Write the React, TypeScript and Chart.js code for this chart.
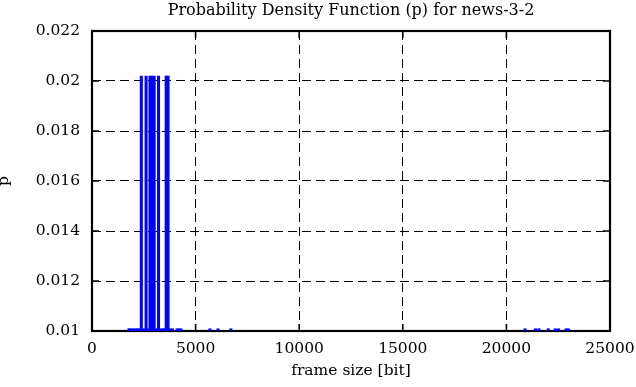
import { useEffect, useRef } from 'react';
import { Chart, registerables } from 'chart.js';

Chart.register(...registerables);

// frame size [bit] of each impulse
const frameSizes = [
  1780, 1860, 1980, 2090, 2200, 2290, 2380, 2490, 2610, 2700, 2800, 2900, 3000, 3100,
  3210, 3310, 3420, 3500, 3580, 3670, 3780, 3880, 4110, 4210, 4290, 5690, 6080, 6700,
  20900, 21400, 21570, 22020, 22360, 22520, 22880, 22990,
];
// probability density p for each impulse
const pdfValues = [
  0.01009, 0.01009, 0.01009, 0.01009, 0.01009, 0.01009, 0.0202, 0.01009, 0.0202, 0.01009,
  0.0202, 0.0202, 0.0202, 0.01009, 0.0202, 0.01009, 0.01009, 0.01009, 0.0202, 0.0202,
  0.01009, 0.01009, 0.01009, 0.01009, 0.01009, 0.01009, 0.01009, 0.01009, 0.01009, 0.01009,
  0.01009, 0.01009, 0.01009, 0.01009, 0.01009, 0.01009,
];

const xTickValues = [0, 5000, 10000, 15000, 20000, 25000];
const xTickLabels = ['0', '5000', '10000', '15000', '20000', '25000'];
const yTickValues = [0.01, 0.012, 0.014, 0.016, 0.018, 0.02, 0.022];
const yTickLabels = ['0.01', '0.012', '0.014', '0.016', '0.018', '0.02', '0.022'];

const titleText = 'Probability Density Function (p) for news-3-2';
const xAxisLabel = 'frame size [bit]';
const yAxisLabel = 'p';

const FONT = 'DejaVu Serif';
const FSIZE = 15.5;

const framePlugin = {
  id: 'gnuFrame',
  beforeDatasetsDraw(chart: any) {
    const { ctx, chartArea: a, scales } = chart;
    const x = scales.x;
    const y = scales.y;
    const len = 7;
    ctx.save();
    ctx.strokeStyle = '#000';
    ctx.lineWidth = 1.6;
    ctx.beginPath();
    for (const v of xTickValues) {
      const px = x.getPixelForValue(v);
      ctx.moveTo(px, a.bottom);
      ctx.lineTo(px, a.bottom - len);
      ctx.moveTo(px, a.top);
      ctx.lineTo(px, a.top + len);
    }
    for (const v of yTickValues) {
      const py = y.getPixelForValue(v);
      ctx.moveTo(a.left, py);
      ctx.lineTo(a.left + len, py);
      ctx.moveTo(a.right, py);
      ctx.lineTo(a.right - len, py);
    }
    ctx.stroke();
    ctx.lineWidth = 2.2;
    ctx.strokeRect(a.left, a.top, a.right - a.left, a.bottom - a.top);
    ctx.restore();
  },
};

export default function App() {
  const ref = useRef<HTMLCanvasElement | null>(null);

  useEffect(() => {
    if (!ref.current) return;
    const chart = new Chart(ref.current, {
      type: 'bar',
      data: {
        datasets: [
          {
            data: frameSizes.map((f, i) => ({ x: f, y: pdfValues[i] })),
            backgroundColor: '#0000ff',
            borderWidth: 0,
            barThickness: 2.4,
            clip: 0,
          } as any,
        ],
      },
      options: {
        animation: false,
        responsive: true,
        maintainAspectRatio: false,
        events: [],
        layout: { padding: { left: 0, right: 26, top: 0, bottom: 0 } },
        plugins: {
          legend: { display: false },
          tooltip: { enabled: false },
          title: {
            display: true,
            text: titleText,
            fullSize: false,
            color: '#000',
            font: { family: FONT, size: 16, weight: 'normal', lineHeight: 1.2 },
            padding: { top: 1, bottom: 10.8 },
          },
        },
        scales: {
          x: {
            type: 'linear',
            min: 0,
            max: 25000,
            offset: false,
            afterBuildTicks: (s: any) => {
              s.ticks = xTickValues.map((v) => ({ value: v }));
            },
            afterFit: (s: any) => {
              s.height = 56;
              s.paddingLeft = 0;
              s.paddingRight = 0;
            },
            ticks: {
              autoSkip: false,
              maxRotation: 0,
              padding: 9,
              color: '#000',
              font: { family: FONT, size: FSIZE, lineHeight: 1.2 },
              callback: (_v: any, i: number) => xTickLabels[i],
            },
            grid: { color: '#000', lineWidth: 1, drawTicks: false, offset: false },
            border: { display: false, dash: [9, 5] },
            title: {
              display: true,
              text: xAxisLabel,
              color: '#000',
              font: { family: FONT, size: FSIZE, lineHeight: 1.2 },
              padding: { top: 0, bottom: 6.7 },
            },
          },
          y: {
            type: 'linear',
            min: 0.01,
            max: 0.022,
            afterBuildTicks: (s: any) => {
              s.ticks = yTickValues.map((v) => ({ value: v }));
            },
            afterFit: (s: any) => {
              s.width = 92;
              s.paddingTop = 0;
              s.paddingBottom = 0;
            },
            ticks: {
              autoSkip: false,
              padding: 12,
              color: '#000',
              font: { family: FONT, size: FSIZE, lineHeight: 1.2 },
              callback: (_v: any, i: number) => yTickLabels[i],
            },
            grid: { color: '#000', lineWidth: 1, drawTicks: false },
            border: { display: false, dash: [9, 5] },
            title: {
              display: true,
              text: yAxisLabel,
              color: '#000',
              font: { family: FONT, size: FSIZE, lineHeight: 0.5 },
              padding: 0,
            },
          },
        },
      } as any,
      plugins: [framePlugin],
    });
    return () => chart.destroy();
  }, []);

  return (
    <div style={{ position: 'absolute', left: 0, top: 0, width: 636, height: 387, background: '#fff' }}>
      <canvas ref={ref} />
    </div>
  );
}
